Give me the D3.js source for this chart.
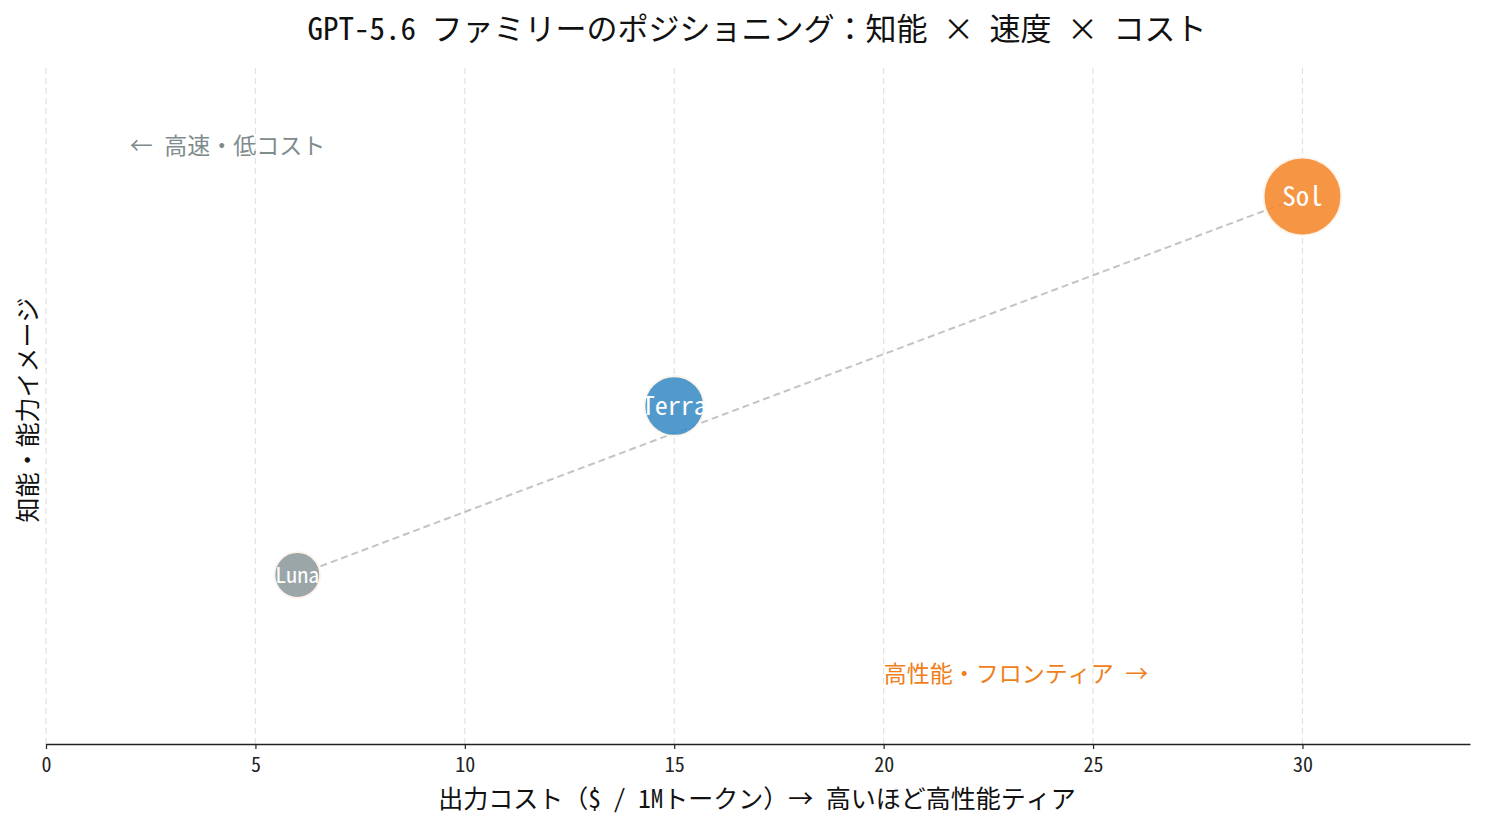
<!DOCTYPE html>
<html><head><meta charset="utf-8">
<script src="https://cdn.jsdelivr.net/npm/d3@7"></script>
<style>
body{margin:0;background:#fff;}
text{font-family:"Noto Sans Mono CJK JP","Noto Sans CJK JP","DejaVu Sans Mono",monospace;}
.tick text{font-size:20px;}
</style></head><body>
<svg id="c" width="1485" height="824"></svg>
<script>
const models = ["Luna","Terra","Sol"];
const costs = [6, 15, 30];
const intel = [25, 50, 81];
const sizes = [1, 1.7, 2.9];
const colors = ["#8f9c9d","#3f8fc7","#f58b31"];
const xTicks = [0,5,10,15,20,25,30];
const title = "GPT-5.6 ファミリーのポジショニング：知能 × 速度 × コスト";
const xLabel = "出力コスト（$ / 1Mトークン）→ 高いほど高性能ティア";
const yLabel = "知能・能力イメージ";
const notes = [
  {text:"← 高速・低コスト", x:2, y:88.5, color:"#7f8c8d"},
  {text:"高性能・フロンティア →", x:20, y:10.4, color:"#f07e1a"}
];

const FONT = '"Noto Sans Mono CJK JP","Noto Sans CJK JP","DejaVu Sans Mono",monospace';
const svg = d3.select("#c");
const m = {l:46, r:15, t:68, b:80};
const W = 1485, H = 824;
const x = d3.scaleLinear().domain([0,34]).range([m.l, W-m.r]);
const y = d3.scaleLinear().domain([0,100]).range([H-m.b, m.t]);
const r = d3.scaleSqrt().domain([0,3]).range([0,39.5]);

// grid
svg.append("g").selectAll("line").data(xTicks).join("line")
  .attr("x1",d=>x(d)).attr("x2",d=>x(d)).attr("y1",m.t).attr("y2",H-m.b)
  .attr("stroke","#e2e2e2").attr("stroke-width",1.2).attr("stroke-dasharray","6,4");

// axis
const ax = svg.append("g").attr("transform",`translate(0,${H-m.b})`)
  .call(d3.axisBottom(x).tickValues(xTicks).tickSize(5).tickPadding(9).tickSizeOuter(0));
ax.attr("font-family",FONT).attr("font-size",20);
ax.select(".domain").attr("stroke","#222").attr("stroke-width",1.4);
ax.selectAll(".tick line").attr("stroke","#222").attr("stroke-width",1.2);
ax.selectAll(".tick text").attr("font-size",20).attr("fill","#222");

// arrow
svg.append("defs").append("marker").attr("id","ah").attr("viewBox","0 0 10 10")
  .attr("refX",9).attr("refY",5).attr("markerWidth",10).attr("markerHeight",10)
  .attr("markerUnits","userSpaceOnUse").attr("orient","auto")
  .append("path").attr("d","M0,1 L9,5 L0,9").attr("fill","none").attr("stroke","#c4c4c4").attr("stroke-width",1.6);
const x0=x(costs[0]), y0=y(intel[0]), x1=x(costs[2]), y1=y(intel[2]);
const ang=Math.atan2(y1-y0,x1-x0);
const r0=r(sizes[0])+2, r1=r(sizes[2])*0.3;
svg.append("line")
  .attr("x1",x0+Math.cos(ang)*r0).attr("y1",y0+Math.sin(ang)*r0)
  .attr("x2",x1-Math.cos(ang)*r1).attr("y2",y1-Math.sin(ang)*r1)
  .attr("stroke","#c4c4c4").attr("stroke-width",2).attr("stroke-dasharray","7,4")
  .attr("marker-end","url(#ah)");

// bubbles
const g = svg.append("g").selectAll("g").data(models).join("g")
  .attr("transform",(d,i)=>`translate(${x(costs[i])},${y(intel[i])})`);
g.append("circle").attr("r",(d,i)=>r(sizes[i])).attr("fill",(d,i)=>colors[i])
  .attr("fill-opacity",0.9).attr("stroke","#fdf3ea").attr("stroke-width",1.8);
g.append("text").text(d=>d).attr("text-anchor","middle").attr("dy","0.36em")
  .attr("fill","#fff").style("font-size",(d,i)=>[22,26,27][i]+"px");

// notes
svg.append("g").selectAll("text").data(notes).join("text")
  .attr("x",d=>x(d.x)).attr("y",d=>y(d.y)).attr("dy","0.36em")
  .attr("fill",d=>d.color).style("font-size","23px")
  .text(d=>d.text);

// titles
svg.append("text").attr("x",757).attr("y",29).attr("dy","0.36em").attr("text-anchor","middle")
  .style("font-size","31px").attr("fill","#111").text(title);
svg.append("text").attr("x",757).attr("y",799).attr("dy","0.36em").attr("text-anchor","middle")
  .style("font-size","25px").attr("fill","#111").text(xLabel);
svg.append("text").attr("transform","translate(28,410) rotate(-90)").attr("dy","0.36em")
  .attr("text-anchor","middle").style("font-size","25px").attr("fill","#111").text(yLabel);
</script></body></html>
